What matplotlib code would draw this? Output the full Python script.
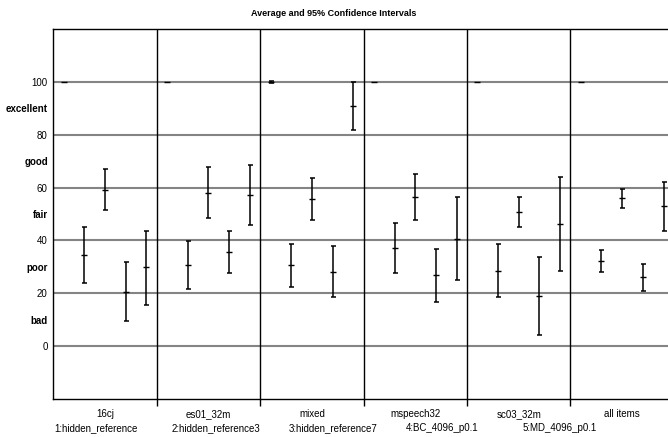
import matplotlib
matplotlib.use("Agg")
import matplotlib.pyplot as plt
import numpy as np

plt.rcParams['font.family'] = ['Liberation Sans', 'DejaVu Sans']

# test sets (one panel each) and the systems rated in every set
sets = ['16cj', 'es01_32m', 'mixed', 'mspeech32', 'sc03_32m', 'all items']
systems = ['1:hidden_reference', '2:hidden_reference3', '3:hidden_reference7',
           '4:BC_4096_p0.1', '5:MD_4096_p0.1']

# mean score per set, one row per set, one column per system
means = [
    [100.0, 34.6, 59.1, 20.6, 29.8],
    [100.0, 30.6, 58.1, 35.5, 57.2],
    [100.0, 30.6, 55.7, 28.2, 91.0],
    [100.0, 37.2, 56.5, 26.8, 40.6],
    [100.0, 28.4, 50.8, 19.0, 46.2],
    [100.0, 32.2, 56.1, 26.0, 53.1],
]
# lower and upper ends of the 95% confidence intervals
lows = [
    [100.0, 23.9, 51.4, 9.4, 15.7],
    [100.0, 21.6, 48.4, 27.7, 45.7],
    [99.7, 22.4, 47.6, 18.6, 81.8],
    [100.0, 27.8, 47.6, 16.8, 25.2],
    [100.0, 18.5, 45.1, 4.2, 28.3],
    [100.0, 28.1, 52.4, 21.0, 43.7],
]
highs = [
    [100.0, 45.2, 66.9, 31.9, 43.6],
    [100.0, 39.7, 67.8, 43.5, 68.5],
    [100.3, 38.8, 63.7, 37.7, 100.0],
    [100.0, 46.6, 65.0, 36.9, 56.5],
    [100.0, 38.5, 56.5, 33.7, 64.0],
    [100.0, 36.4, 59.6, 31.1, 62.1],
]

score_ticks = [0, 20, 40, 60, 80, 100]
grade_ticks = [10, 30, 50, 70, 90]
grades = ['bad', 'poor', 'fair', 'good', 'excellent']

fig = plt.figure(figsize=(6.68, 4.37), dpi=100)
ax = fig.add_axes([0.0798, 0.087, 0.929, 0.8467])

n_sys = len(systems)
m = np.array(means)
lo = np.array(lows)
hi = np.array(highs)
for p in range(len(sets)):
    x = p + (np.arange(n_sys) + 0.5) / n_sys
    # only draw an interval where it has some width
    has_ci = hi[p] > lo[p]
    yerr = np.vstack([m[p] - lo[p], hi[p] - m[p]])[:, has_ci]
    ax.errorbar(x[has_ci], m[p][has_ci], yerr=yerr, fmt='none', ecolor='black',
                elinewidth=1.1, capsize=1.8, capthick=1.1, zorder=3)
    ax.plot(x, m[p], ls='none', marker='_', ms=5, mew=1.0, color='black', zorder=4)

# panel separators
for b in range(1, len(sets)):
    ax.axvline(b, color='black', lw=1.0, zorder=2)

ax.set_xlim(0, len(sets))
ax.set_ylim(-20, 120)

ax.set_yticks(score_ticks)
ax.set_yticklabels([str(t) for t in score_ticks], fontsize=7)
ax.set_yticks(grade_ticks, minor=True)
ax.set_yticklabels(grades, minor=True, fontsize=7, fontweight='bold')
ax.tick_params(axis='y', which='both', length=0, pad=4)
ax.grid(axis='y', which='major', color='#848484', lw=1.5, zorder=1)

ax.set_xticks(np.arange(len(sets)) + 0.5)
ax.set_xticklabels(sets, fontsize=7)
ax.set_xticks(np.arange(1, len(sets)), minor=True)
ax.tick_params(axis='x', which='major', length=0, pad=7.5)
ax.tick_params(axis='x', which='minor', length=5, width=1.0, direction='out')

for s in ax.spines.values():
    s.set_color('black')
    s.set_linewidth(1.0)

fig.text(0.5, 0.968, 'Average and 95% Confidence Intervals', ha='center', va='center',
         fontsize=6.5, fontweight='bold')

for i, name in enumerate(systems):
    fig.text(0.081 + i * 0.1755, 0.0206, name, ha='left', va='center', fontsize=7)

fig.savefig('out.png', dpi=100)
